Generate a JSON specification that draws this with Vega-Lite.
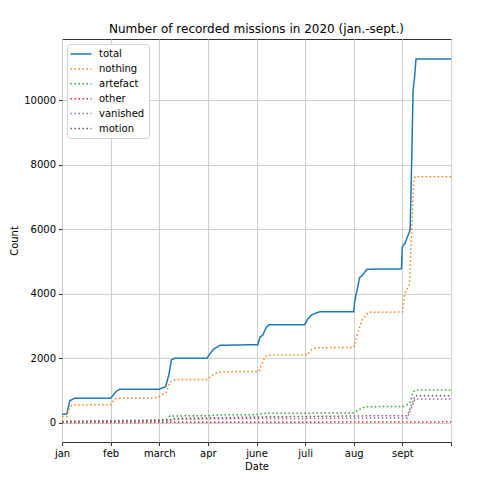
{
  "$schema": "https://vega.github.io/schema/vega-lite/v6.json",
  "width": 389,
  "height": 403,
  "autosize": "none",
  "padding": {"left": 62, "top": 39, "right": 43, "bottom": 41},
  "background": "white",
  "title": {"text": "Number of recorded missions in 2020 (jan.-sept.)", "font": "DejaVu Sans", "fontSize": 12, "fontWeight": "normal", "color": "#000", "offset": 3},
  "config": {
    "view": {"stroke": "#333", "strokeWidth": 1},
    "axis": {"labelFont": "DejaVu Sans", "labelFontSize": 10, "labelColor": "#000", "titleFont": "DejaVu Sans", "titleFontSize": 10, "titleFontWeight": "normal", "titleColor": "#000", "tickColor": "#333", "tickSize": 3.5, "gridColor": "#cfcfcf", "gridWidth": 1, "domain": false}
  },
  "data": {"values": [
    {"series": "total", "x": 0, "y": 260}, {"series": "total", "x": 0.1, "y": 270}, {"series": "total", "x": 0.16, "y": 680}, {"series": "total", "x": 0.26, "y": 757}, {"series": "total", "x": 1.0, "y": 760}, {"series": "total", "x": 1.05, "y": 850}, {"series": "total", "x": 1.12, "y": 980}, {"series": "total", "x": 1.19, "y": 1035}, {"series": "total", "x": 2.0, "y": 1040}, {"series": "total", "x": 2.13, "y": 1115}, {"series": "total", "x": 2.2, "y": 1500}, {"series": "total", "x": 2.25, "y": 1945}, {"series": "total", "x": 2.32, "y": 2000}, {"series": "total", "x": 2.98, "y": 2000}, {"series": "total", "x": 3.05, "y": 2150}, {"series": "total", "x": 3.12, "y": 2280}, {"series": "total", "x": 3.2, "y": 2357}, {"series": "total", "x": 3.25, "y": 2400}, {"series": "total", "x": 4.03, "y": 2420}, {"series": "total", "x": 4.07, "y": 2650}, {"series": "total", "x": 4.13, "y": 2720}, {"series": "total", "x": 4.2, "y": 2950}, {"series": "total", "x": 4.26, "y": 3040}, {"series": "total", "x": 4.99, "y": 3040}, {"series": "total", "x": 5.05, "y": 3200}, {"series": "total", "x": 5.13, "y": 3340}, {"series": "total", "x": 5.3, "y": 3440}, {"series": "total", "x": 6.0, "y": 3440}, {"series": "total", "x": 6.02, "y": 3774}, {"series": "total", "x": 6.07, "y": 4115}, {"series": "total", "x": 6.12, "y": 4500}, {"series": "total", "x": 6.17, "y": 4560}, {"series": "total", "x": 6.27, "y": 4760}, {"series": "total", "x": 6.98, "y": 4770}, {"series": "total", "x": 7.0, "y": 5450}, {"series": "total", "x": 7.05, "y": 5550}, {"series": "total", "x": 7.1, "y": 5750}, {"series": "total", "x": 7.16, "y": 5975}, {"series": "total", "x": 7.19, "y": 7990}, {"series": "total", "x": 7.22, "y": 10316}, {"series": "total", "x": 7.25, "y": 10700}, {"series": "total", "x": 7.28, "y": 11278}, {"series": "total", "x": 8.0, "y": 11278},

    {"series": "nothing", "x": 0, "y": 186}, {"series": "nothing", "x": 0.1, "y": 190}, {"series": "nothing", "x": 0.15, "y": 450}, {"series": "nothing", "x": 0.2, "y": 549}, {"series": "nothing", "x": 1.0, "y": 555}, {"series": "nothing", "x": 1.06, "y": 700}, {"series": "nothing", "x": 1.12, "y": 757}, {"series": "nothing", "x": 1.9, "y": 760}, {"series": "nothing", "x": 2.0, "y": 806}, {"series": "nothing", "x": 2.15, "y": 950}, {"series": "nothing", "x": 2.22, "y": 1250}, {"series": "nothing", "x": 2.28, "y": 1324}, {"series": "nothing", "x": 2.4, "y": 1340}, {"series": "nothing", "x": 2.99, "y": 1340}, {"series": "nothing", "x": 3.1, "y": 1480}, {"series": "nothing", "x": 3.2, "y": 1560}, {"series": "nothing", "x": 3.35, "y": 1581}, {"series": "nothing", "x": 4.05, "y": 1590}, {"series": "nothing", "x": 4.12, "y": 1850}, {"series": "nothing", "x": 4.18, "y": 2050}, {"series": "nothing", "x": 4.23, "y": 2100}, {"series": "nothing", "x": 5.05, "y": 2100}, {"series": "nothing", "x": 5.12, "y": 2250}, {"series": "nothing", "x": 5.23, "y": 2326}, {"series": "nothing", "x": 6.0, "y": 2330}, {"series": "nothing", "x": 6.08, "y": 2772}, {"series": "nothing", "x": 6.17, "y": 3184}, {"series": "nothing", "x": 6.3, "y": 3423}, {"series": "nothing", "x": 7.0, "y": 3430}, {"series": "nothing", "x": 7.05, "y": 4000}, {"series": "nothing", "x": 7.1, "y": 4150}, {"series": "nothing", "x": 7.15, "y": 4300}, {"series": "nothing", "x": 7.19, "y": 6000}, {"series": "nothing", "x": 7.23, "y": 7400}, {"series": "nothing", "x": 7.26, "y": 7628}, {"series": "nothing", "x": 8.0, "y": 7628},

    {"series": "artefact", "x": 0, "y": 40}, {"series": "artefact", "x": 1.0, "y": 60}, {"series": "artefact", "x": 2.0, "y": 84}, {"series": "artefact", "x": 2.15, "y": 100}, {"series": "artefact", "x": 2.22, "y": 208}, {"series": "artefact", "x": 3.0, "y": 215}, {"series": "artefact", "x": 3.2, "y": 240}, {"series": "artefact", "x": 4.0, "y": 250}, {"series": "artefact", "x": 4.2, "y": 291}, {"series": "artefact", "x": 6.0, "y": 300}, {"series": "artefact", "x": 6.1, "y": 400}, {"series": "artefact", "x": 6.25, "y": 496}, {"series": "artefact", "x": 7.02, "y": 500}, {"series": "artefact", "x": 7.15, "y": 600}, {"series": "artefact", "x": 7.22, "y": 950}, {"series": "artefact", "x": 7.27, "y": 1014}, {"series": "artefact", "x": 8.0, "y": 1014},

    {"series": "other", "x": 0, "y": 5}, {"series": "other", "x": 2.2, "y": 10}, {"series": "other", "x": 7.2, "y": 20}, {"series": "other", "x": 8.0, "y": 25},

    {"series": "vanished", "x": 0, "y": 20}, {"series": "vanished", "x": 2.2, "y": 60}, {"series": "vanished", "x": 2.3, "y": 100}, {"series": "vanished", "x": 4.2, "y": 130}, {"series": "vanished", "x": 7.1, "y": 140}, {"series": "vanished", "x": 7.2, "y": 500}, {"series": "vanished", "x": 7.26, "y": 735}, {"series": "vanished", "x": 8.0, "y": 735},

    {"series": "motion", "x": 0, "y": 30}, {"series": "motion", "x": 2.2, "y": 70}, {"series": "motion", "x": 2.3, "y": 130}, {"series": "motion", "x": 4.2, "y": 180}, {"series": "motion", "x": 6.2, "y": 210}, {"series": "motion", "x": 7.1, "y": 215}, {"series": "motion", "x": 7.2, "y": 600}, {"series": "motion", "x": 7.26, "y": 837}, {"series": "motion", "x": 8.0, "y": 837}
  ]},
  "mark": {"type": "line", "strokeWidth": 1.5, "clip": true},
  "encoding": {
    "x": {"field": "x", "type": "quantitative", "scale": {"domain": [0, 8], "nice": false, "zero": false}, "axis": {"title": "Date", "values": [0, 1, 2, 3, 4, 5, 6, 7, 8], "labelExpr": "['jan','feb','march','apr','june','juli','aug','sept',''][datum.value]", "labelFlush": false, "labelPadding": 3, "titlePadding": 3}},
    "y": {"field": "y", "type": "quantitative", "scale": {"domain": [-600, 11900], "nice": false, "zero": false}, "axis": {"title": "Count", "values": [0, 2000, 4000, 6000, 8000, 10000], "format": "d", "labelFlush": false, "labelPadding": 3, "titlePadding": 4}},
    "color": {"field": "series", "type": "nominal", "sort": null, "scale": {"domain": ["total", "nothing", "artefact", "other", "vanished", "motion"], "range": ["#1f77b4", "#ff7f0e", "#2ca02c", "#d62728", "#9467bd", "#8c564b"]}, "legend": {"title": null, "orient": "top-left", "offset": 5, "padding": 4, "strokeColor": "#d0d0d0", "fillColor": "white", "cornerRadius": 3, "symbolType": "M-2,0H2", "symbolSize": 110.25, "symbolOffset": 4, "symbolStrokeWidth": 1.5, "labelOffset": 12, "labelFont": "DejaVu Sans", "labelFontSize": 10, "labelColor": "#000", "rowPadding": 3.9}},
    "strokeDash": {"field": "series", "type": "nominal", "sort": null, "scale": {"domain": ["total", "nothing", "artefact", "other", "vanished", "motion"], "range": [[1, 0], [1.5, 2.5], [1.5, 2.5], [1.5, 2.5], [1.5, 2.5], [1.5, 2.5]]}, "legend": null},
    "order": {"field": "x", "type": "quantitative"}
  }
}
